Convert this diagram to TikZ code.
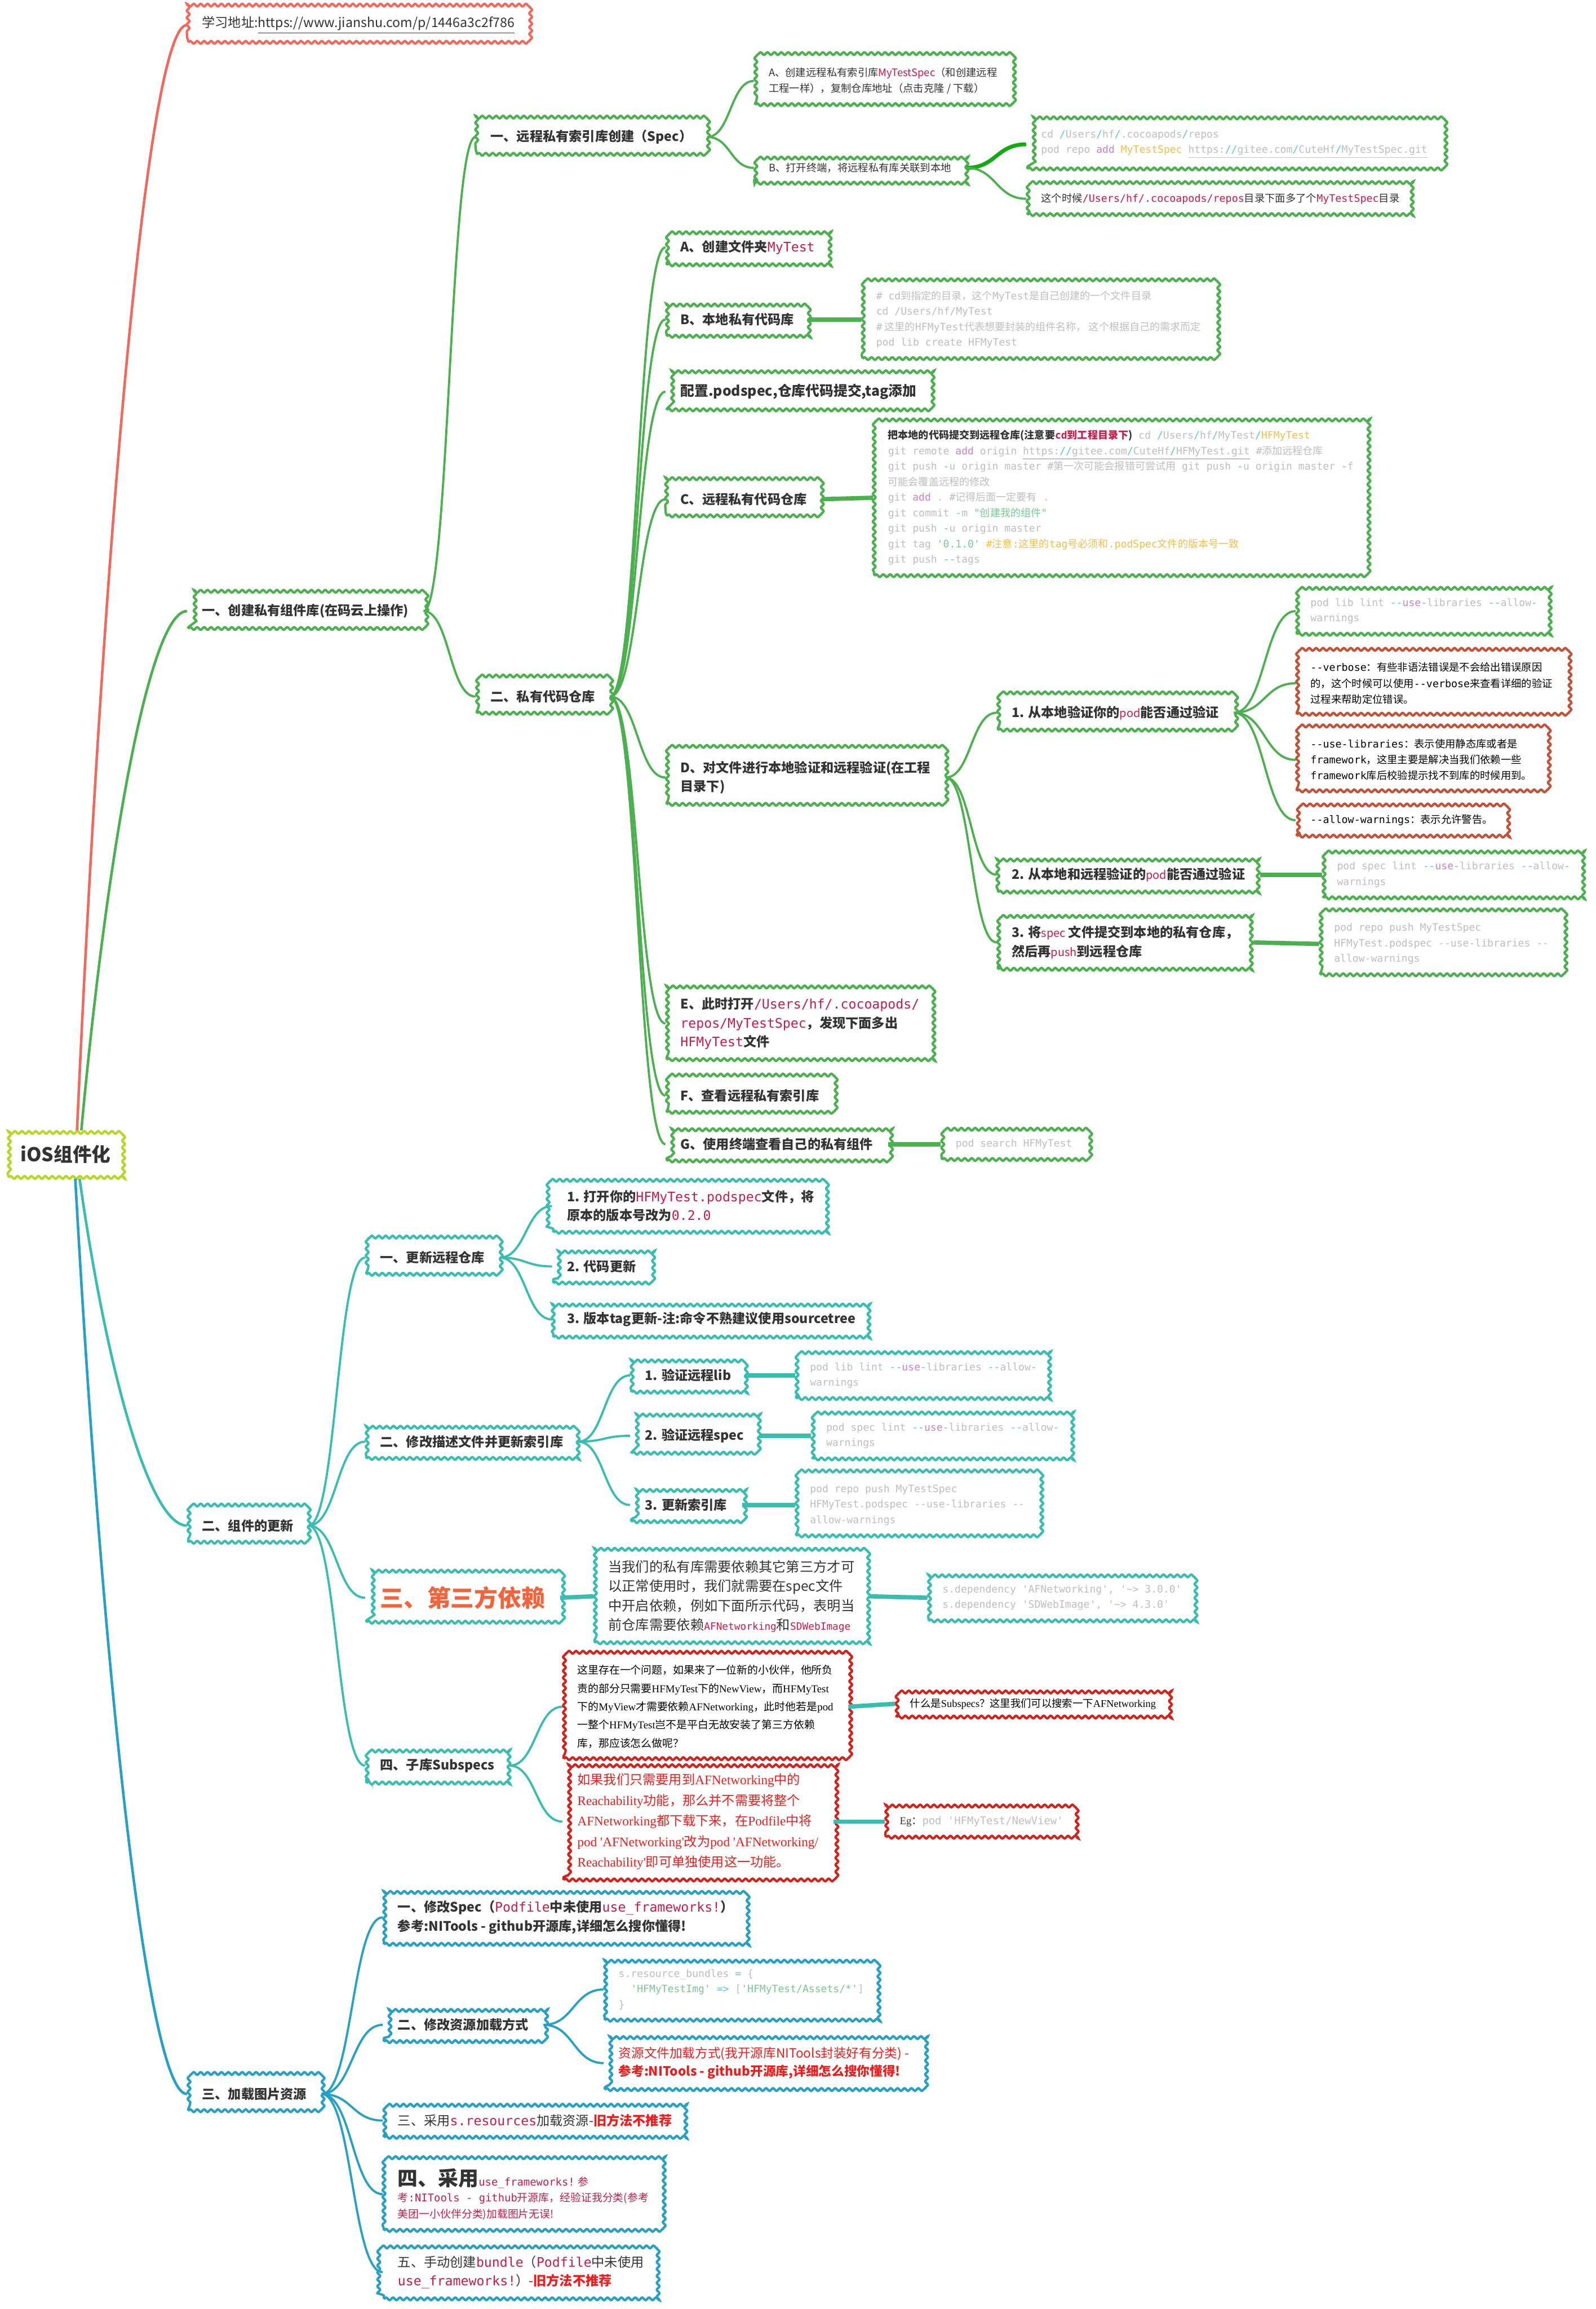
\documentclass[tikz,border=0pt]{standalone}
\usepackage{fontspec}
\setmainfont{Noto Sans CJK SC}
\setmonofont{DejaVu Sans Mono}
\newfontfamily\serifl{Liberation Serif}
\usetikzlibrary{decorations.pathmorphing, calc}
\definecolor{LineRed}{RGB}{238,106,94}
\definecolor{LineGreen}{RGB}{76,175,80}
\definecolor{BrightGreen}{RGB}{20,170,20}
\definecolor{LineTeal}{RGB}{58,189,177}
\definecolor{LineBlue}{RGB}{40,160,195}
\definecolor{RootLime}{RGB}{182,214,42}
\definecolor{BrickRed}{RGB}{192,84,58}
\definecolor{DeepRed}{RGB}{206,38,30}
\definecolor{Ink}{RGB}{51,51,51}
\definecolor{CodeGray}{RGB}{190,190,190}
\definecolor{CodeRed}{RGB}{200,28,72}
\definecolor{CodePurple}{RGB}{200,130,205}
\definecolor{CodeCyan}{RGB}{90,200,210}
\definecolor{CodeYellow}{RGB}{245,190,70}
\definecolor{CodeGreen}{RGB}{120,200,150}
\definecolor{AlertRed}{RGB}{235,30,30}
\definecolor{TitleOrange}{RGB}{242,100,60}
\newcommand\mono[1]{{\ttfamily #1}}
\newcommand\kred[1]{\textcolor{CodeRed}{#1}}
\newcommand\kcy[1]{\textcolor{CodeCyan}{#1}}
\newcommand\kpur[1]{\textcolor{CodePurple}{#1}}
\newcommand\kyel[1]{\textcolor{CodeYellow}{#1}}
\newcommand\kgrn[1]{\textcolor{CodeGreen}{#1}}
\newcommand\kmono[1]{\textcolor{CodeRed}{\ttfamily\mdseries #1}}
\newcommand\ksmall[1]{\textcolor{CodeRed}{\mdseries\fontsize{7.4}{10}\selectfont #1}}
\newcommand\lat[1]{{\serifl #1}}
\tikzset{
  leaf/.style={draw, fill=white, line width=0.55mm,
    decorate, decoration={snake, segment length=1.6mm, amplitude=0.3mm},
    anchor=west, align=left, inner xsep=3.2mm, inner ysep=2.4mm, text=Ink},
  topic/.style={leaf, font=\bfseries\fontsize{8.6}{12.4}\selectfont},
  plain/.style={leaf, font=\fontsize{6.8}{10.4}\selectfont},
  codebox/.style={leaf, font=\fontsize{6.7}{10.2}\selectfont, text=CodeGray},
  greenrim/.style={draw=LineGreen},
  tealrim/.style={draw=LineTeal},
  bluerim/.style={draw=LineBlue},
  brickrim/.style={draw=BrickRed},
  redrim/.style={draw=DeepRed},
  branch/.style={to path={let \p1=(\tikztostart), \p2=(\tikztotarget) in
    .. controls ({0.5*\x1+0.5*\x2},\y1) and ({0.5*\x1+0.5*\x2},\y2) .. (\tikztotarget)}},
  trunk/.style={to path={let \p1=(\tikztostart), \p2=(\tikztotarget) in
    .. controls ({\x1+0.25*(\x2-\x1)},{\y1+0.55*(\y2-\y1)}) and ({\x2-0.35*(\x2-\x1)},\y2) .. (\tikztotarget)}},
  glink/.style={draw=LineGreen, line width=0.5mm},
  tlink/.style={draw=LineTeal, line width=0.5mm},
  blink/.style={draw=LineBlue, line width=0.5mm},
  gbar/.style={draw=LineGreen, line width=1mm},
  tbar/.style={draw=LineTeal, line width=1mm},
}
\begin{document}
\begin{tikzpicture}[x=0.3404mm, y=-0.3404mm]
    \useasboundingbox (0,0) rectangle (1084,1568);

    % Root and link
    \node[leaf, draw=RootLime, font=\bfseries\fontsize{12.5}{15}\selectfont, inner xsep=2.8mm, inner ysep=3.2mm] (root) at (5,784) {iOS组件化};
    \node[leaf, draw=LineRed, font=\fontsize{8.6}{10}\selectfont, inner ysep=2mm] (url) at (127,17) {学习地址:\underline{https://www.jianshu.com/p/1446a3c2f786}};

    % Green branch: create the private component library
    \node[topic, greenrim] (cz) at (127,415) {一、创建私有组件库(在码云上操作)};
    \node[topic, greenrim] (spec) at (323,93) {一、远程私有索引库创建（Spec）};
    \node[plain, greenrim] (specA) at (512,55) {A、创建远程私有索引库\kred{MyTestSpec}（和创建远程\\工程一样），复制仓库地址（点击克隆 / 下载）};
    \node[plain, greenrim] (specB) at (512,114) {B、打开终端，将远程私有库关联到本地};
    \node[codebox, greenrim] (specBcode) at (697,98) {\mono{cd \kcy{/}Users\kcy{/}hf\kcy{/}.cocoapods\kcy{/}repos}\\\mono{pod repo \kpur{add} \kyel{MyTestSpec} \underline{https:\kcy{//}gitee.com\kcy{/}CuteHf\kcy{/}MyTestSpec.git}}};
    \node[plain, greenrim] (specBnote) at (697,135) {这个时候\kmono{/Users/hf/.cocoapods/repos}目录下面多了个\kmono{MyTestSpec}目录};

    \node[topic, greenrim] (repo) at (323,473) {二、私有代码仓库};
    \node[topic, greenrim] (rA) at (452,168) {A、创建文件夹\kmono{MyTest}};
    \node[topic, greenrim] (rB) at (452,217) {B、本地私有代码库};
    \node[codebox, greenrim] (rBcode) at (585,217) {\mono{\# cd}到指定的目录，这个\mono{MyTest}是自己创建的一个文件目录\\\mono{cd /Users/hf/MyTest}\\\mono{\#} 这里的\mono{HFMyTest}代表想要封装的组件名称， 这个根据自己的需求而定\\\mono{pod lib create HFMyTest}};
    \node[topic, greenrim, font=\bfseries\fontsize{9.2}{12.4}\selectfont] (rCfg) at (452,266) {配置.podspec,仓库代码提交,tag添加};
    \node[topic, greenrim] (rC) at (452,339) {C、远程私有代码仓库};
    \node[codebox, greenrim] (rCcode) at (593,338) {{\bfseries\color{Ink}把本地的代码提交到远程仓库(注意要\textcolor{CodeRed}{\mono{cd}到工程目录下})}\mono{ cd \kcy{/}Users\kcy{/}hf\kcy{/}MyTest\kcy{/}\kyel{HFMyTest}}\\\mono{git remote \kpur{add} origin \underline{https:\kcy{//}gitee.com\kcy{/}CuteHf\kcy{/}HFMyTest.git} \#}添加远程仓库\\\mono{git push \kcy{-}u origin master \#}第一次可能会报错可尝试用\mono{ git push \kcy{-}u origin master \kcy{-}f}\\可能会覆盖远程的修改\\\mono{git \kpur{add} . \#}记得后面一定要有\mono{ .}\\\mono{git commit \kcy{-}m }\kgrn{\mono{"}创建我的组件\mono{"}}\\\mono{git push \kcy{-}u origin master}\\\mono{git tag \kgrn{'0.1.0'} }\kyel{\mono{\#}注意\mono{:}这里的\mono{tag}号必须和\mono{.podSpec}文件的版本号一致}\\\mono{git push \kcy{--}tags}};
    \node[topic, greenrim] (rD) at (452,528) {D、对文件进行本地验证和远程验证(在工程\\目录下)};
    \node[topic, greenrim] (v1) at (677,484) {1. 从本地验证你的\ksmall{pod}能否通过验证};
    \node[codebox, greenrim] (v1code) at (880,415) {\mono{pod lib lint \kcy{--}\kpur{use}\kcy{-}libraries \kcy{--}allow\kcy{-}}\\\mono{warnings}};
    \node[plain, brickrim, text=black] (v1r1) at (880,464) {\mono{--verbose}：有些非语法错误是不会给出错误原因\\的，这个时候可以使用\mono{--verbose}来查看详细的验证\\过程来帮助定位错误。};
    \node[plain, brickrim, text=black] (v1r2) at (880,516) {\mono{--use-libraries}：表示使用静态库或者是\\\mono{framework}，这里主要是解决当我们依赖一些\\\mono{framework}库后校验提示找不到库的时候用到。};
    \node[plain, brickrim, text=black] (v1r3) at (880,557) {\mono{--allow-warnings}：表示允许警告。};
    \node[topic, greenrim] (v2) at (677,594) {2. 从本地和远程验证的\ksmall{pod}能否通过验证};
    \node[codebox, greenrim] (v2code) at (898,594) {\mono{pod spec lint \kcy{--}\kpur{use}\kcy{-}libraries \kcy{--}allow\kcy{-}}\\\mono{warnings}};
    \node[topic, greenrim] (v3) at (677,640) {3. 将\ksmall{spec} 文件提交到本地的私有仓库，\\然后再\ksmall{push}到远程仓库};
    \node[codebox, greenrim] (v3code) at (896,641) {\mono{pod repo push MyTestSpec}\\\mono{HFMyTest.podspec --use-libraries --}\\\mono{allow-warnings}};
    \node[topic, greenrim] (rE) at (452,695) {E、此时打开\kmono{/Users/hf/.cocoapods/}\\\kmono{repos/MyTestSpec}，发现下面多出\\\kmono{HFMyTest}文件};
    \node[topic, greenrim] (rF) at (452,744) {F、查看远程私有索引库};
    \node[topic, greenrim] (rG) at (452,777) {G、使用终端查看自己的私有组件};
    \node[codebox, greenrim] (rGcode) at (639,777) {\mono{pod search HFMyTest}};

    % Teal branch: updating the component
    \node[topic, tealrim] (up) at (127,1036) {二、组件的更新};
    \node[topic, tealrim] (u1) at (248,854) {一、更新远程仓库};
    \node[topic, tealrim] (u11) at (375,819) {1. 打开你的\kmono{HFMyTest.podspec}文件，将\\原本的版本号改为\kmono{0.2.0}};
    \node[topic, tealrim] (u12) at (375,860) {2. 代码更新};
    \node[topic, tealrim] (u13) at (375,896) {3. 版本tag更新-注:命令不熟建议使用sourcetree};
    \node[topic, tealrim] (u2) at (248,979) {二、修改描述文件并更新索引库};
    \node[topic, tealrim] (u21) at (428,934) {1. 验证远程lib};
    \node[codebox, tealrim] (u21c) at (540,934) {\mono{pod lib lint \kcy{--}\kpur{use}\kcy{-}libraries \kcy{--}allow\kcy{-}}\\\mono{warnings}};
    \node[topic, tealrim] (u22) at (428,975) {2. 验证远程spec};
    \node[codebox, tealrim] (u22c) at (551,975) {\mono{pod spec lint \kcy{--}\kpur{use}\kcy{-}libraries \kcy{--}allow\kcy{-}}\\\mono{warnings}};
    \node[topic, tealrim] (u23) at (428,1022) {3. 更新索引库};
    \node[codebox, tealrim] (u23c) at (540,1022) {\mono{pod repo push MyTestSpec}\\\mono{HFMyTest.podspec --use-libraries --}\\\mono{allow-warnings}};
    \node[topic, tealrim, font=\bfseries\fontsize{15.5}{18}\selectfont, text=TitleOrange, inner ysep=3mm] (u3) at (248,1085) {三、第三方依赖};
    \node[leaf, tealrim, font=\fontsize{9}{12.8}\selectfont] (u3txt) at (403,1084) {当我们的私有库需要依赖其它第三方才可\\以正常使用时，我们就需要在spec文件\\中开启依赖，例如下面所示代码，表明当\\前仓库需要依赖\kmono{\fontsize{6.6}{8}\selectfont AFNetworking}和\kmono{\fontsize{6.6}{8}\selectfont SDWebImage}};
    \node[codebox, tealrim] (u3code) at (630,1085) {\mono{s.dependency 'AFNetworking', '\textasciitilde> 3.0.0'}\\\mono{s.dependency 'SDWebImage', '\textasciitilde> 4.3.0'}};
    \node[topic, tealrim] (u4) at (248,1199) {四、子库Subspecs};
    \node[leaf, redrim, font=\fontsize{7}{12}\selectfont, text=black] (u4a) at (382,1159) {这里存在一个问题，如果来了一位新的小伙伴，他所负\\责的部分只需要\lat{HFMyTest}下的\lat{NewView}，而\lat{HFMyTest}\\下的\lat{MyView}才需要依赖\lat{AFNetworking}，此时他若是\lat{pod}\\一整个\lat{HFMyTest}岂不是平白无故安装了第三方依赖\\库，那应该怎么做呢？};
    \node[leaf, redrim, font=\fontsize{6.8}{10}\selectfont, text=black, inner ysep=1.8mm] (u4aq) at (608,1157) {什么是\lat{Subspecs}？这里我们可以搜索一下\lat{AFNetworking}};
    \node[leaf, redrim, font=\fontsize{8.6}{13.5}\selectfont, text=AlertRed] (u4b) at (382,1237) {如果我们只需要用到\lat{AFNetworking}中的\\\lat{Reachability}功能，那么并不需要将整个\\\lat{AFNetworking}都下载下来，在\lat{Podfile}中将\\\lat{pod 'AFNetworking'}改为\lat{pod 'AFNetworking/}\\\lat{Reachability'}即可单独使用这一功能。};
    \node[leaf, redrim, font=\fontsize{7}{10}\selectfont] (u4beg) at (601,1237) {\lat{Eg}：\textcolor{CodeGray}{\mono{pod 'HFMyTest/NewView'}}};

    % Blue branch: image resources
    \node[topic, bluerim] (img) at (127,1422) {三、加载图片资源};
    \node[topic, bluerim] (i1) at (260,1302) {一、修改Spec（\kmono{Podfile}中未使用\kmono{use\_frameworks!}）\\参考:NITools - github开源库,详细怎么搜你懂得!};
    \node[topic, bluerim] (i2) at (260,1375) {二、修改资源加载方式};
    \node[codebox, bluerim] (i2code) at (410,1351) {\mono{s.resource\_bundles \kcy{=} \{}\\\mono{\ \ \kgrn{'HFMyTestImg'} \kcy{=>} [\kgrn{'HFMyTest/Assets/*'}]}\\\mono{\}}};
    \node[leaf, bluerim, font=\fontsize{8.4}{12}\selectfont, text=AlertRed] (i2red) at (410,1401) {资源文件加载方式(我开源库NITools封装好有分类) -\\{\bfseries 参考:NITools - github开源库,详细怎么搜你懂得!}};
    \node[leaf, bluerim, font=\fontsize{8.6}{12}\selectfont] (i3) at (260,1440) {三、采用\kmono{s.resources}加载资源-\textcolor{AlertRed}{\bfseries 旧方法不推荐}};
    \node[leaf, bluerim, font=\fontsize{7}{10.6}\selectfont, text=CodeRed] (i4) at (260,1490) {{\bfseries\color{Ink}\fontsize{13.3}{15}\selectfont 四、采用}\mono{use\_frameworks!} 参\\考\mono{:NITools - github}开源库，经验证我分类(参考\\美团一小伙伴分类)加载图片无误!};
    \node[leaf, bluerim, font=\fontsize{8.6}{12}\selectfont] (i5) at (260,1543) {五、手动创建\kmono{bundle}（\kmono{Podfile}中未使用\\\kmono{use\_frameworks!}）-\textcolor{AlertRed}{\bfseries 旧方法不推荐}};

    % Trunk lines out of the root
    \draw[draw=LineRed, line width=0.6mm] ([xshift=2.6mm]root.north) to[trunk] (url.west);
    \draw[draw=LineGreen, line width=0.6mm] ([xshift=3.6mm]root.north) to[trunk] (cz.west);
    \draw[draw=LineTeal, line width=0.6mm] ([xshift=3.2mm]root.south) to[trunk] (up.west);
    \draw[draw=LineBlue, line width=0.6mm] ([xshift=2.2mm]root.south) to[trunk] (img.west);

    % Green connectors
    \draw[glink] (cz.east) to[branch] (spec.west);
    \draw[glink] (cz.east) to[branch] (repo.west);
    \draw[glink] (spec.east) to[branch] (specA.west);
    \draw[glink] (spec.east) to[branch] (specB.west);
    \draw[draw=BrightGreen, line width=0.9mm] (specB.east) to[branch] (specBcode.west);
    \draw[glink] (specB.east) to[branch] (specBnote.west);
    \draw[glink] (repo.east) to[branch] (rA.west);
    \draw[glink] (repo.east) to[branch] (rB.west);
    \draw[glink] (repo.east) to[branch] (rCfg.west);
    \draw[glink] (repo.east) to[branch] (rC.west);
    \draw[glink] (repo.east) to[branch] (rD.west);
    \draw[glink] (repo.east) to[branch] (rE.west);
    \draw[glink] (repo.east) to[branch] (rF.west);
    \draw[glink] (repo.east) to[branch] (rG.west);
    \draw[gbar] (rB.east) -- (rBcode.west);
    \draw[gbar] (rC.east) -- (rCcode.west);
    \draw[gbar] (rG.east) -- (rGcode.west);
    \draw[glink] (rD.east) to[branch] (v1.west);
    \draw[glink] (rD.east) to[branch] (v2.west);
    \draw[glink] (rD.east) to[branch] (v3.west);
    \draw[glink] (v1.east) to[branch] (v1code.west);
    \draw[glink] (v1.east) to[branch] (v1r1.west);
    \draw[glink] (v1.east) to[branch] (v1r2.west);
    \draw[glink] (v1.east) to[branch] (v1r3.west);
    \draw[gbar] (v2.east) -- (v2code.west);
    \draw[gbar] (v3.east) -- (v3code.west);

    % Teal connectors
    \draw[tlink] (up.east) to[branch] (u1.west);
    \draw[tlink] (up.east) to[branch] (u2.west);
    \draw[tlink] (up.east) to[branch] (u3.west);
    \draw[tlink] (up.east) to[branch] (u4.west);
    \draw[tlink] (u1.east) to[branch] (u11.west);
    \draw[tlink] (u1.east) to[branch] (u12.west);
    \draw[tlink] (u1.east) to[branch] (u13.west);
    \draw[tlink] (u2.east) to[branch] (u21.west);
    \draw[tlink] (u2.east) to[branch] (u22.west);
    \draw[tlink] (u2.east) to[branch] (u23.west);
    \draw[tbar] (u21.east) -- (u21c.west);
    \draw[tbar] (u22.east) -- (u22c.west);
    \draw[tbar] (u23.east) -- (u23c.west);
    \draw[tbar] (u3.east) -- (u3txt.west);
    \draw[tbar] (u3txt.east) -- (u3code.west);
    \draw[tlink] (u4.east) to[branch] (u4a.west);
    \draw[tlink] (u4.east) to[branch] (u4b.west);
    \draw[tbar] (u4a.east) -- (u4aq.west);
    \draw[tbar] (u4b.east) -- (u4beg.west);

    % Blue connectors
    \draw[blink] (img.east) to[branch] (i1.west);
    \draw[blink] (img.east) to[branch] (i2.west);
    \draw[blink] (img.east) to[branch] (i3.west);
    \draw[blink] (img.east) to[branch] (i4.west);
    \draw[blink] (img.east) to[branch] (i5.west);
    \draw[blink] (i2.east) to[branch] (i2code.west);
    \draw[blink] (i2.east) to[branch] (i2red.west);
\end{tikzpicture}
\end{document}
